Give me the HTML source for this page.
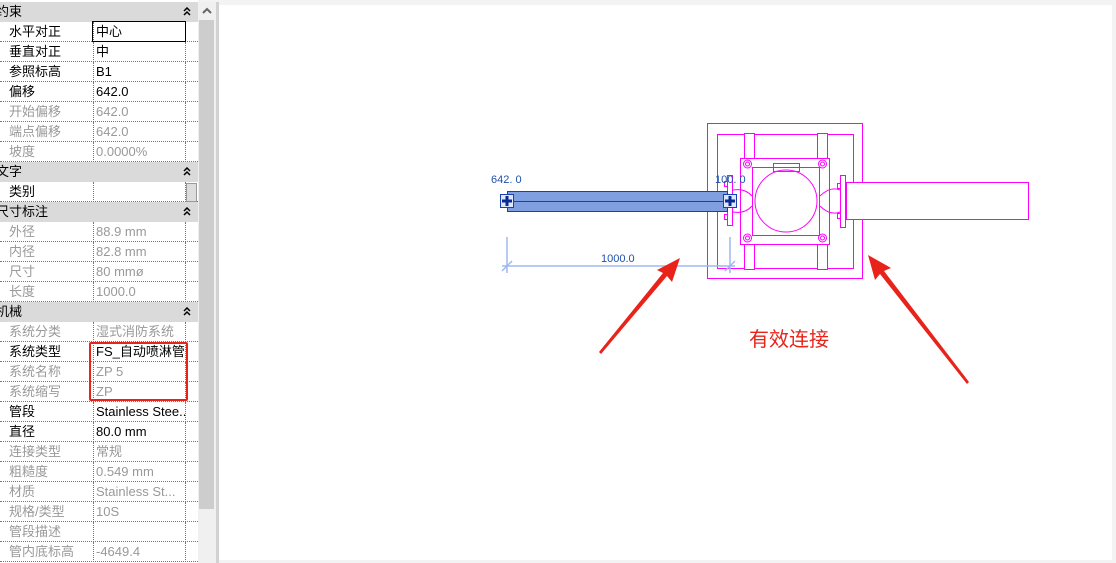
<!DOCTYPE html>
<html><head><meta charset="utf-8"><style>
*{margin:0;padding:0;box-sizing:border-box}
body{width:1116px;height:563px;background:#f3f3f3;position:relative;overflow:hidden;font-family:"Liberation Sans","Noto Sans CJK SC",sans-serif;font-size:13px;line-height:18px}
#panel{position:absolute;left:0;top:2px;width:198px}
.r{position:absolute;left:0;width:198px;height:20px;border-bottom:1px dotted #777;background:#fff}
.r .l{position:absolute;left:9px;top:1px;color:#999;white-space:nowrap}
.r .v{position:absolute;left:93px;top:0;width:93px;height:20px;border-left:1px dotted #777;border-right:1px dotted #777;padding:1px 0 0 2px;color:#999;white-space:nowrap;overflow:hidden}
.r.b .l,.r.b .v{color:#000}
.h{position:absolute;left:0;width:198px;height:20px;background:#dadada}
.h span{position:absolute;left:-4px;top:1px;color:#000}
.h svg{position:absolute;left:183px;top:5px}
</style></head><body>
<div style="position:absolute;left:0;top:0;width:198px;height:563px;background:#fff"></div>
<div id="panel"></div>
<div style="position:absolute;left:198px;top:2px;width:18px;height:561px;background:#f0f0f0"></div>
<div style="position:absolute;left:199px;top:20px;width:15px;height:489px;background:#cdcdcd"></div>
<svg style="position:absolute;left:201px;top:7px" width="12" height="8"><path d="M2 6 L6 2 L10 6" fill="none" stroke="#666" stroke-width="2"/></svg>
<div style="position:absolute;left:216px;top:2px;width:3px;height:561px;background:#d2d2d2"></div>
<div style="position:absolute;left:219px;top:5px;width:893px;height:555px;background:#fff"></div>
<script>
var rows=[["h","约束"],["b","水平对正","中心"],["b","垂直对正","中"],["b","参照标高","B1"],["b","偏移","642.0"],["","开始偏移","642.0"],["","端点偏移","642.0"],["","坡度","0.0000%"],["h","文字"],["b","类别",""],["h","尺寸标注"],["","外径","88.9 mm"],["","内径","82.8 mm"],["","尺寸","80 mmø"],["","长度","1000.0"],["h","机械"],["","系统分类","湿式消防系统"],["b","系统类型","FS_自动喷淋管"],["","系统名称","ZP 5"],["","系统缩写","ZP"],["b","管段","Stainless Stee..."],["b","直径","80.0 mm"],["","连接类型","常规"],["","粗糙度","0.549 mm"],["","材质","Stainless St..."],["","规格/类型","10S"],["","管段描述",""],["","管内底标高","-4649.4"]];
var p=document.getElementById('panel'),h='';
var chev='<svg width="8" height="10"><path d="M1 4L4 1L7 4M1 8L4 5L7 8" fill="none" stroke="#000" stroke-width="1.5"/></svg>';
rows.forEach(function(r,i){var y=i*20;
if(r[0]=='h')h+='<div class="h" style="top:'+y+'px"><span>'+r[1]+'</span>'+chev+'</div>';
else h+='<div class="r '+r[0]+'" style="top:'+y+'px"><span class="l">'+r[1]+'</span><span class="v">'+r[2]+'</span></div>';});
p.innerHTML=h;
</script>
<div style="position:absolute;left:92px;top:21px;width:94px;height:21px;border:1.5px solid #000"></div>
<div style="position:absolute;left:186px;top:183px;width:11px;height:19px;border:1px solid #999;background:#ddd"></div>
<div style="position:absolute;left:89px;top:342px;width:99px;height:59px;border:2px solid #e8231a;border-radius:2px"></div>
<svg style="position:absolute;left:0;top:0" width="1116" height="563" font-family="Liberation Sans, sans-serif">
<g fill="none" stroke="#f0f" stroke-width="1">
<rect x="707.5" y="123.5" width="155" height="155"/>
<rect x="717.5" y="134.5" width="136" height="134"/>
<rect x="744.5" y="133.5" width="10" height="136" fill="#fff"/>
<rect x="817.5" y="133.5" width="10" height="136" fill="#fff"/>
<rect x="740.5" y="158.5" width="89" height="86" fill="#fff"/>
<rect x="752.5" y="167.5" width="67" height="68"/>
<rect x="773.5" y="163.5" width="26" height="8"/>
<circle cx="786" cy="201" r="31"/>
<circle cx="747.5" cy="164" r="4"/><circle cx="747.5" cy="164" r="2"/>
<circle cx="822.5" cy="164" r="4"/><circle cx="822.5" cy="164" r="2"/>
<circle cx="747.5" cy="238" r="4"/><circle cx="747.5" cy="238" r="2"/>
<circle cx="822.5" cy="238" r="4"/><circle cx="822.5" cy="238" r="2"/>
<rect x="846.5" y="182.5" width="182" height="37" fill="#fff"/>
<rect x="840.5" y="175.5" width="5" height="52" fill="#fff"/>
<rect x="837.5" y="183.5" width="3" height="5"/><rect x="837.5" y="213.5" width="3" height="5"/>
<path d="M733 190 Q745 188 752 196 M733 212 Q745 214 752 206 M820 196 Q830 186 840 190 M820 206 Q830 216 840 212"/>
<rect x="727.5" y="175.5" width="5" height="50" fill="#fff"/>
<rect x="724.5" y="181.5" width="3" height="5"/><rect x="724.5" y="214.5" width="3" height="5"/>
</g>
<rect x="507.5" y="191.5" width="220" height="20" fill="#7f9fe0" stroke="#1a3fb0"/>
<line x1="507" y1="201.5" x2="728" y2="201.5" stroke="#1a3fb0"/>
<rect x="500.5" y="194.5" width="13" height="13" fill="#dde8ff" stroke="#1a3fb0"/>
<path d="M507 196v10M502 201h10" stroke="#0a2a90" stroke-width="3"/>
<rect x="723.5" y="194.5" width="13" height="13" fill="#dde8ff" stroke="#1a3fb0"/>
<path d="M730 196v10M725 201h10" stroke="#0a2a90" stroke-width="3"/>
<text x="491" y="183" font-size="11" fill="#2050b0">642. 0</text>
<text x="715" y="183" font-size="11" fill="#2050b0">100. 0</text>
<g stroke="#9fb8f0" stroke-width="1.5">
<line x1="507" y1="237" x2="507" y2="273"/><line x1="730" y1="237" x2="730" y2="273"/>
<line x1="502" y1="266" x2="735" y2="266"/>
<line x1="502" y1="271" x2="512" y2="261"/><line x1="725" y1="271" x2="735" y2="261"/>
</g>
<text x="601" y="262" font-size="11" fill="#2050b0">1000.0</text>
<g fill="#e8231a" stroke="none">
<polygon points="599,352 601,354 667,276 672,282 680,258 657,270 663,273"/>
<polygon points="967,384 969,382 884,271 891,268 868,255 875,280 880,274"/>
</g>
<text x="749" y="346" font-size="20" fill="#e8231a" font-family="Liberation Sans, Noto Sans CJK SC, sans-serif">有效连接</text>
</svg>
</body></html>
